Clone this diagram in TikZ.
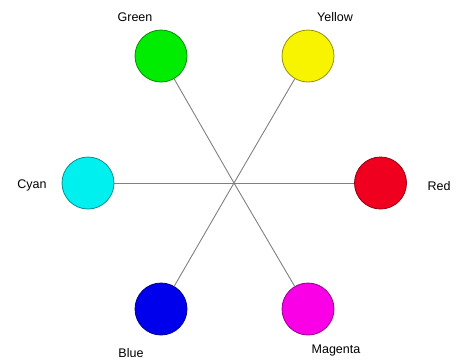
\documentclass[tikz,border=0pt]{standalone}
\usepackage{fontspec}
\setmainfont{Liberation Sans}
\definecolor{cgreen}{RGB}{0,236,0}
\definecolor{cyellow}{RGB}{248,244,0}
\definecolor{ccyan}{RGB}{0,240,240}
\definecolor{cred}{RGB}{240,0,30}
\definecolor{cblue}{RGB}{0,0,236}
\definecolor{cmagenta}{RGB}{250,0,230}
\begin{document}
\begin{tikzpicture}[x=1pt,y=-1pt,
  dot/.style={circle,minimum size=52pt,inner sep=0pt,line width=0.8pt,draw=#1!60!black,fill=#1},
  lbl/.style={font=\fontsize{12.5}{14}\selectfont,inner sep=0pt},
  spoke/.style={draw=black!50,line width=0.9pt}]
\useasboundingbox (0,0) rectangle (462,360);
\coordinate (c) at (234,183);
\node[dot=cgreen] (green) at (161,56) {};
\node[dot=cyellow] (yellow) at (308,56) {};
\node[dot=ccyan] (cyan) at (88,183) {};
\node[dot=cred] (red) at (380.5,183) {};
\node[dot=cblue] (blue) at (161,309) {};
\node[dot=cmagenta] (magenta) at (308,309) {};
\draw[spoke] (c) -- (green);
\draw[spoke] (c) -- (yellow);
\draw[spoke] (c) -- (cyan);
\draw[spoke] (c) -- (red);
\draw[spoke] (c) -- (blue);
\draw[spoke] (c) -- (magenta);
\node[lbl] (lgreen) at (135,17) {Green};
\node[lbl] (lyellow) at (335,17) {Yellow};
\node[lbl] (lcyan) at (32,185) {Cyan};
\node[lbl] (lred) at (439,186) {Red};
\node[lbl] (lblue) at (131,353) {Blue};
\node[lbl] (lmagenta) at (336,350) {Magenta};
\end{tikzpicture}
\end{document}
